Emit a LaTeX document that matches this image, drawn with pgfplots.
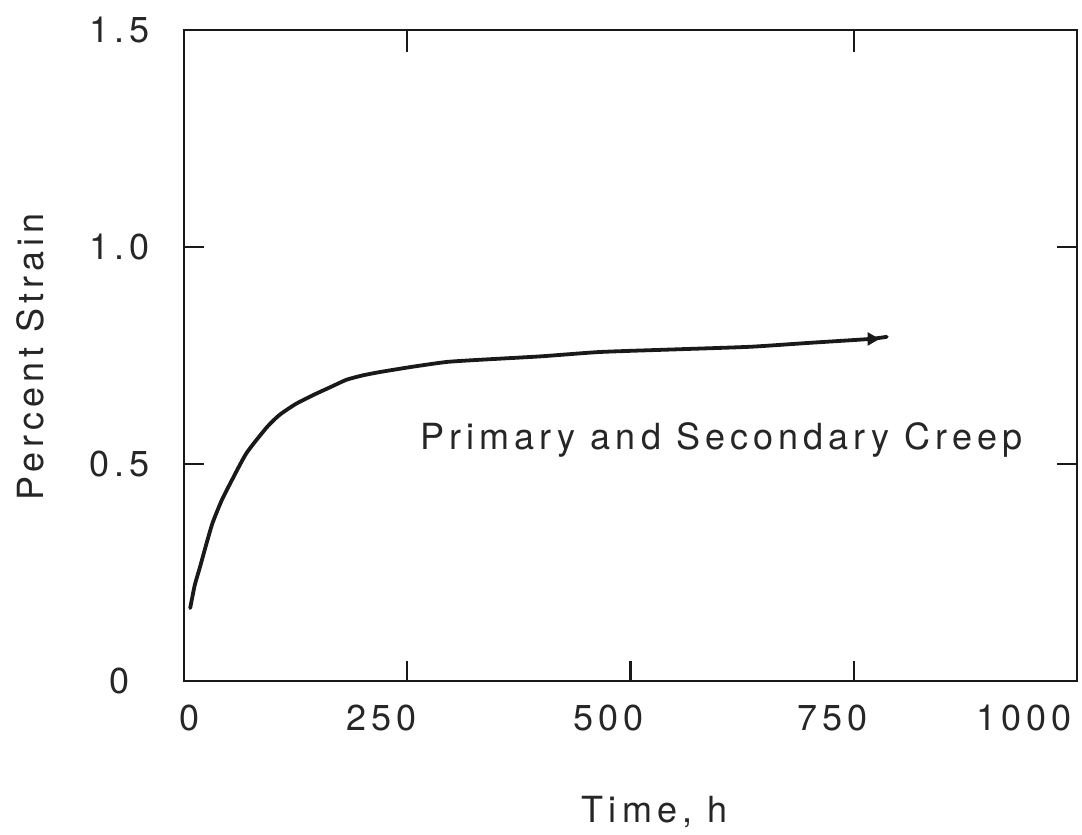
\documentclass[border=0pt]{standalone}
\usepackage{fontspec}
\setmainfont[LetterSpace=14]{TeX Gyre Heros}
\usepackage{pgfplots}
\pgfplotsset{compat=1.18}
\begin{document}
\begin{tikzpicture}
\begin{axis}[
  scale only axis, width=446.5pt, height=325.5pt,
  xmin=0, xmax=1000, ymin=0, ymax=1.5,
  xtick={0,250,500,750,1000},
  xticklabels={\makebox[0pt]{\kern6pt 0}, \makebox[0pt]{\kern-26pt 250}, \makebox[0pt]{\kern-22pt 500}, \makebox[0pt]{\kern-21pt 750}, \makebox[0pt]{\kern-53pt 1000}},
  ytick={0,0.5,1.0,1.5}, yticklabels={0,0.5,1.0,1.5},
  xtick pos=bottom, ytick pos=both, yticklabel pos=left,
  tick align=inside, major tick length=10pt,
  axis line style={line width=1.4pt, black!90},
  major tick style={line width=1.2pt, black!90},
  /pgf/number format/assume math mode=true,
  ticklabel style={font=\fontsize{18}{21}\selectfont, text=black!85},
  xticklabel style={anchor=center, inner sep=0pt, yshift=-18.5pt},
  yticklabel style={anchor=center, inner sep=0pt, xshift=-32pt},
  xlabel={Time, h}, ylabel={Percent Strain},
  label style={font=\fontsize{18}{21}\selectfont, text=black!85},
  xlabel style={at={(axis description cs:0.527,-0.201)}, anchor=center},
  ylabel style={at={(axis description cs:-0.172,0.498)}, anchor=center},
  clip=false,
]
\path (axis cs:-206,-0.348) rectangle (axis cs:1005.6,1.569);
\addplot[black!90, line width=1.9pt, smooth, tension=0.35, line cap=round] coordinates {
(7,0.168)(12,0.22)(18,0.263)(25,0.315)(32,0.364)(42,0.415)(52,0.456)(70,0.525)
(93,0.585)(107,0.613)(125,0.638)(145,0.659)(165,0.678)(182,0.694)(200,0.704)
(220,0.712)(256,0.724)(294,0.735)(331,0.740)(400,0.748)(466,0.758)(550,0.764)
(634,0.770)(700,0.779)(768,0.788)(787,0.793)
};
\addplot[black!90, only marks, mark=triangle*, mark size=3.5pt, mark options={rotate=-90}] coordinates {(770,0.788)};
\node[font=\fontsize{18}{21}\selectfont, text=black!85] at (axis cs:602,0.555) {Primary and Secondary Creep};
\end{axis}
\begin{axis}[
  scale only axis, width=446.5pt, height=325.5pt,
  xmin=0, xmax=1000, ymin=0, ymax=1.5,
  axis x line*=top, hide y axis,
  xtick={250,750}, xticklabels={},
  tick align=inside, major tick length=11pt,
  axis line style={line width=1.4pt, black!90},
  major tick style={line width=1.2pt, black!90},
]
\end{axis}
\end{tikzpicture}
\end{document}
